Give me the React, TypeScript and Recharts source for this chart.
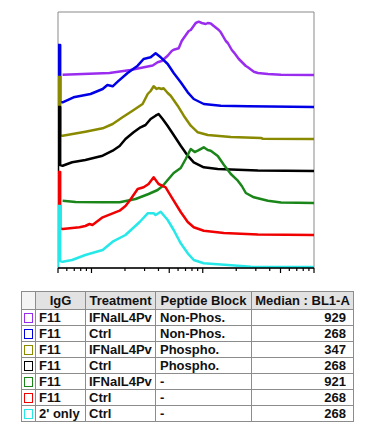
import React from "react";
import { LineChart, Line, XAxis, YAxis, ReferenceArea } from "recharts";

// Histogram series: [BL1-A value, count]
const purplePts: [number, number][] = [[55,0.3],[145,2],[224,5],[355,9.5],[393,12.7],[427,14],[484,19.3],[526,24],[548,25.3],[608,26.7],[647,34],[675,37],[748,44],[780,45],[865,52],[920,53.3],[979,52],[1021,51.5],[1064,51],[1109,52],[1180,51.5],[1257,49],[1394,45],[1453,42.7],[1612,34],[1680,32],[1825,25],[1903,22.7],[2110,16],[2200,14],[2440,9],[2545,7.7],[2880,3.3],[3129,2],[3854,1],[5045,0.3],[10000,0]];
const bluePts: [number, number][] = [[50,0],[50,62],[52.3,62],[52.3,5],[55,4.7],[69,9.7],[98,13],[126,18],[139,22],[155,20.7],[172,25.3],[211,34],[260,41.3],[294,48],[340,49.7],[377,53.7],[419,49.7],[484,43],[548,34],[634,24.7],[733,14.7],[830,8],[1021,3],[1453,1.3],[2545,0.7],[10000,0]];
const olivePts: [number, number][] = [[50,0],[50,62],[52.3,62],[52.3,4],[55,3.3],[88,7.3],[126,10.7],[155,15],[190,21.7],[234,28.3],[288,35],[320,45],[340,48],[362,52.7],[385,50],[401,51],[427,50],[445,50.7],[484,46],[515,43.3],[595,33.3],[675,23.3],[780,13.3],[902,6.7],[1109,4],[1788,2],[3333,1],[3473,0.3],[10000,0]];
const blackPts: [number, number][] = [[50,0],[50,64],[52.3,64],[52.3,6],[55,5.3],[67,8.7],[88,11],[126,15.3],[155,20.3],[179,25],[202,32],[239,38.7],[276,43.7],[306,46],[340,52],[377,55.3],[401,57],[436,52],[484,45],[548,36],[634,25.3],[733,15.3],[830,8.7],[1021,3.7],[1365,2],[3129,0.5],[10000,0]];
const greenPts: [number, number][] = [[55,2.3],[72,1],[126,0.7],[179,0.7],[249,4],[326,9],[393,13],[436,17],[484,23],[548,30],[634,35],[703,44],[780,54],[847,51],[902,52.3],[1021,55.7],[1109,53],[1180,52.3],[1365,47],[1546,38.3],[1788,29],[2067,22.3],[2245,17],[2440,10],[2880,5.7],[3854,2.3],[5045,0.5],[10000,0]];
const redPts: [number, number][] = [[50,0],[50,63],[52.3,63],[52.3,6.5],[55,6],[78,7.7],[88,9],[96,11],[102,10],[126,17.7],[179,24.3],[202,29],[220,34.3],[260,46],[294,47.7],[326,51],[362,57.7],[401,51],[464,47.7],[526,37.7],[634,23],[733,13],[830,7.7],[1021,4.3],[1546,2],[3129,0.5],[10000,0]];
const cyanPts: [number, number][] = [[50,0],[50,61],[52.3,61],[52.3,6],[55,5.3],[67,7],[88,12],[126,17],[155,25.3],[202,32],[271,45],[320,53.7],[362,53.7],[377,52],[419,55.3],[484,47],[548,37],[634,23.7],[733,13.7],[830,7],[1021,3.7],[1680,2],[2706,0.3],[10000,0]];

const seriesPts = [purplePts, bluePts, olivePts, blackPts, greenPts, redPts, cyanPts];
const seriesColors = ["#9a2cf0", "#0000e6", "#8a8a00", "#000000", "#1a861a", "#f00000", "#26e8e8"];

const minorTicks = [50,60,70,80,90,100,200,300,400,500,600,700,800,900,1000,2000,3000,4000,5000,6000,7000,8000,9000,10000];
const majorTicks = [50,100,500,1000,5000,10000];

// Table
const igg = ["F11","F11","F11","F11","F11","F11","2' only"];
const treatment = ["IFNalL4Pv","Ctrl","IFNalL4Pv","Ctrl","IFNalL4Pv","Ctrl","Ctrl"];
const peptide = ["Non-Phos.","Non-Phos.","Phospho.","Phospho.","-","-","-"];
const median = [929,268,347,268,921,268,268];
const headers = ["", "IgG", "Treatment", "Peptide Block", "Median : BL1-A"];

const STEP = 32;
const N = seriesPts.length;
const seriesData = seriesPts.map((pts, i) =>
  pts.map(([x, n]) => ({ x, y: n + 1 + (N - 1 - i) * STEP }))
);

const TickMark = (props: any) => {
  const { x, y, payload } = props;
  const len = majorTicks.includes(payload.value) ? 5 : 3;
  return <line x1={x} y1={y} x2={x} y2={y + len} stroke="#000" strokeWidth={1.2} />;
};

const colW = [14, 50, 70, 96, 102];
const border = "1px solid #8c8c8c";
const font = "'Liberation Sans', Arial, sans-serif";

export default function App() {
  return (
    <div>
      <LineChart width={330} height={272} margin={{ top: 4, left: 50, right: 24, bottom: 2 }}>
        <XAxis
          dataKey="x"
          type="number"
          scale="log"
          domain={[50, 10000]}
          allowDataOverflow
          ticks={minorTicks}
          interval={0}
          tickSize={0}
          tickMargin={0}
          tickLine={false}
          tick={<TickMark />}
          height={10}
          axisLine={{ stroke: "#000", strokeWidth: 1.5 }}
        />
        <YAxis type="number" domain={[0, 256]} allowDataOverflow hide />
        <ReferenceArea
          x1={50}
          x2={10000}
          y1={0}
          y2={256}
          fill="none"
          stroke="#8a8a8a"
          strokeWidth={1}
          ifOverflow="visible"
        />
        {seriesData.map((d, i) => (
          <Line
            key={i}
            data={d}
            dataKey="y"
            type="linear"
            stroke={seriesColors[i]}
            strokeWidth={2.5}
            strokeLinejoin="round"
            dot={false}
            activeDot={false}
            isAnimationActive={false}
          />
        ))}
      </LineChart>
      <table
        style={{
          borderCollapse: "collapse",
          marginTop: 11,
          marginLeft: 13,
          fontFamily: font,
          fontWeight: "bold",
          fontSize: 13,
          color: "#111",
          tableLayout: "fixed",
          width: 332,
        }}
      >
        <colgroup>
          {colW.map((w, i) => (
            <col key={i} style={{ width: w }} />
          ))}
        </colgroup>
        <thead>
          <tr style={{ height: 18 }}>
            {headers.map((h, i) => (
              <th
                key={i}
                style={{
                  border,
                  background: i === 0 ? "#f4f4f4" : "#e2e2e2",
                  padding: "0 2px",
                  textAlign: "center",
                  whiteSpace: "nowrap",
                  lineHeight: "16px",
                }}
              >
                {h}
              </th>
            ))}
          </tr>
        </thead>
        <tbody>
          {igg.map((g, r) => (
            <tr key={r} style={{ height: 16 }}>
              <td style={{ border, padding: 0, textAlign: "center", lineHeight: "14px" }}>
                <div
                  style={{
                    width: 7,
                    height: 8,
                    border: `1.5px solid ${seriesColors[r]}`,
                    margin: "0 auto",
                    background: "#fff",
                  }}
                />
              </td>
              <td style={{ border, padding: "0 3px", lineHeight: "14px", whiteSpace: "nowrap" }}>{g}</td>
              <td style={{ border, padding: "0 3px", lineHeight: "14px", whiteSpace: "nowrap" }}>{treatment[r]}</td>
              <td style={{ border, padding: "0 4px", lineHeight: "14px", whiteSpace: "nowrap" }}>{peptide[r]}</td>
              <td style={{ border, padding: "0 7px", lineHeight: "14px", textAlign: "right" }}>{median[r]}</td>
            </tr>
          ))}
        </tbody>
      </table>
    </div>
  );
}
